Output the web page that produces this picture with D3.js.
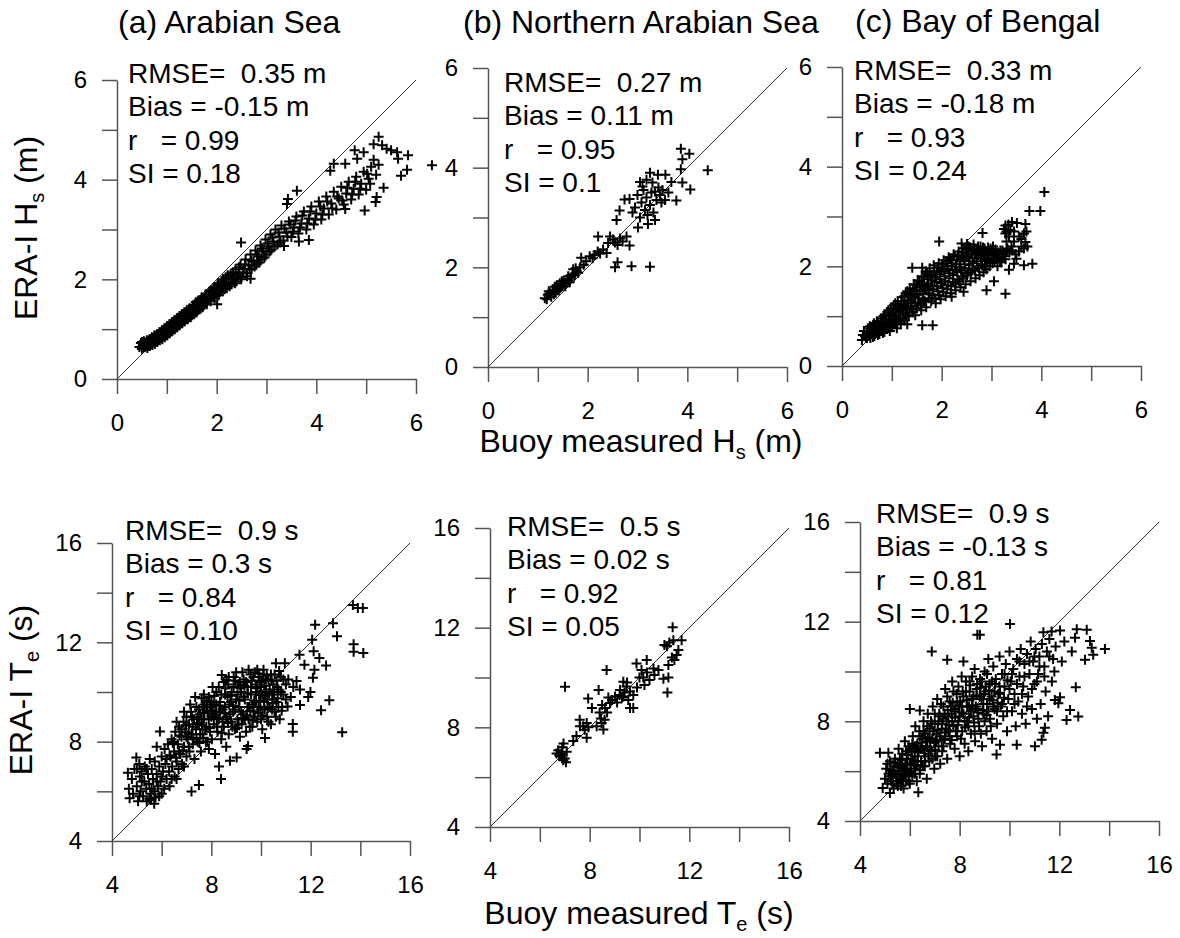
<!DOCTYPE html>
<html>
<head>
<meta charset="utf-8">
<title>ERA-I vs buoy scatter</title>
<script src="https://cdn.jsdelivr.net/npm/d3@7"></script>
<style>
  body { margin: 0; background: #fff; }
  svg { font-family: "Liberation Sans", Arial, sans-serif; }
  text { white-space: pre; }
</style>
</head>
<body>
<script>
// ---- data: [buoy, ERA-I] ----
var hsArabian = [
  [0.45,0.64],[0.48,0.72],[0.5,0.6],[0.52,0.68],[0.54,0.76],[0.56,0.64],[0.58,0.7],[0.6,0.78],[0.61,0.62],[0.63,0.7],
  [0.65,0.8],[0.66,0.66],[0.68,0.74],[0.7,0.84],[0.71,0.68],[0.73,0.78],[0.75,0.88],[0.76,0.7],[0.78,0.8],[0.8,0.9],
  [0.81,0.74],[0.83,0.84],[0.85,0.94],[0.86,0.78],[0.88,0.88],[0.9,0.98],[0.91,0.8],[0.93,0.9],[0.95,1.02],[0.96,0.84],
  [0.98,0.94],[1.0,1.06],[1.01,0.88],[1.03,0.98],[1.05,1.1],[1.06,0.92],[1.08,1.02],[1.1,1.14],[1.11,0.96],[1.13,1.06],
  [1.15,1.18],[1.16,1.0],[1.18,1.1],[1.2,1.22],[1.21,1.04],[1.23,1.14],[1.25,1.26],[1.26,1.08],[1.28,1.18],[1.3,1.3],
  [1.31,1.12],[1.33,1.22],[1.35,1.34],[1.36,1.16],[1.38,1.26],[1.4,1.38],[1.42,1.2],[1.44,1.3],[1.46,1.42],[1.48,1.24],
  [1.5,1.36],[1.52,1.48],[1.54,1.3],[1.56,1.42],[1.58,1.54],[1.6,1.34],[1.62,1.46],[1.64,1.58],[1.66,1.4],[1.68,1.52],
  [1.7,1.64],[1.72,1.44],[1.75,1.56],[1.78,1.7],[1.8,1.5],[1.83,1.62],[1.86,1.76],[1.88,1.56],[1.91,1.68],[1.94,1.82],
  [1.96,1.62],[1.99,1.74],[2.02,1.88],[2.04,1.68],[2.07,1.8],[2.1,1.96],[2.12,1.76],[2.15,1.88],[2.18,2.04],[2.2,1.82],
  [2.24,1.94],[2.28,2.1],[2.3,1.9],[2.34,2.02],[2.38,2.2],[2.4,1.96],[2.44,2.1],[2.48,2.3],[2.5,2.04],[2.54,2.2],
  [2.58,2.4],[2.6,2.12],[2.64,2.28],[2.68,2.5],[2.7,2.2],[2.74,2.36],[2.78,2.58],[2.8,2.3],[2.84,2.46],[2.88,2.68],
  [2.9,2.4],[2.94,2.56],[2.98,2.8],[3.0,2.5],[3.04,2.66],[3.08,2.9],[3.1,2.6],[3.14,2.76],[3.18,3.0],[3.22,2.7],
  [3.26,2.86],[3.3,3.08],[3.34,2.78],[3.4,2.94],[3.45,3.16],[3.5,2.85],[3.55,3.04],[3.6,3.26],[3.64,2.92],[3.7,3.12],
  [3.75,3.36],[3.8,3.0],[3.85,3.22],[3.9,3.46],[3.95,3.1],[4.0,3.32],[4.05,3.56],[4.1,3.2],[4.15,3.42],[4.2,3.66],
  [4.25,3.3],[4.3,3.52],[4.35,3.76],[4.4,3.4],[4.45,3.62],[4.5,3.86],[4.55,3.5],[4.6,3.72],[4.65,3.96],[4.7,3.6],
  [4.75,3.82],[4.8,4.06],[4.85,3.7],[4.9,3.92],[4.95,4.16],[5.0,3.8],[5.05,4.02],[5.1,4.26],[5.15,4.4],[5.2,4.1],
  [5.25,4.3],[5.25,4.86],[5.15,4.71],[5.32,4.69],[5.41,4.62],[5.5,4.59],[5.62,4.55],[5.64,4.42],[5.84,4.49],[5.82,4.2],
  [5.7,4.08],[5.35,3.84],[5.21,3.65],[5.19,3.55],[4.97,3.38],[4.58,3.41],[4.77,4.59],[4.95,4.55],[4.82,4.42],[4.58,4.32],
  [4.35,4.32],[4.28,4.18],[3.61,3.78],[3.43,3.61],[3.41,3.51],[3.85,2.79],[3.65,2.76],[3.35,2.67],[2.68,2.01],[2.01,1.5],
  [2.49,2.74],[6.32,4.29],
  [0.5,0.74],[0.53,0.63],[0.57,0.73],[0.59,0.66],[0.62,0.74],[0.64,0.67],[0.67,0.77],[0.69,0.7],[0.72,0.82],[0.74,0.73],
  [0.77,0.84],[0.79,0.76],[0.82,0.88],[0.84,0.8],[0.87,0.92],[0.89,0.83],[0.92,0.96],[0.94,0.87],[0.97,1.0],[0.99,0.9],
  [1.02,1.04],[1.04,0.94],[1.07,1.08],[1.09,0.98],[1.12,1.12],[1.14,1.02],[1.17,1.16],[1.19,1.06],[1.22,1.2],[1.24,1.1],
  [1.27,1.24],[1.29,1.14],[1.32,1.28],[1.34,1.18],[1.37,1.32],[1.39,1.22],[1.43,1.36],[1.45,1.25],[1.49,1.4],[1.51,1.3],
  [1.55,1.46],[1.57,1.36],[1.61,1.52],[1.63,1.4],[1.67,1.58],[1.69,1.46],[1.73,1.62],[1.76,1.5],[1.79,1.66],[1.81,1.56],
  [1.85,1.72],[1.87,1.62],[1.9,1.78],[1.93,1.66],[1.97,1.84],[2.0,1.7],[2.03,1.92],[2.06,1.74],[2.09,1.86],[2.13,2.0],
  [2.16,1.8],[2.19,1.94],[2.22,2.08],[2.26,1.86],[2.29,2.0],[2.33,2.14],[2.37,1.92],[2.41,2.06],[2.45,2.24],[2.49,2.0],
  [2.53,2.14],[2.57,2.3],[2.61,2.06],[2.66,2.2],[2.7,2.38],[2.76,2.26],[2.81,2.5],[2.86,2.34],[2.91,2.62],[2.96,2.44],
  [3.02,2.72],[3.06,2.56],[3.12,2.84],[3.16,2.66],[3.24,2.94],[3.28,2.74],[3.36,3.02],[3.42,2.86],[3.48,3.1],[3.53,2.96],
  [3.58,3.18],[3.67,3.04],[3.72,3.28],[3.82,3.12],[3.88,3.36],[3.98,3.2],[4.08,3.46],[4.12,3.3],[4.22,3.56],[4.32,3.42],
  [4.42,3.66],[4.52,3.58],[4.62,3.84],[4.72,3.7],[4.78,3.96],[4.88,3.82],[5.02,4.12],[5.08,3.92]
];
var hsNorthern = [
  [1.14,1.38],[1.2,1.45],[1.24,1.48],[1.27,1.41],[1.3,1.55],[1.34,1.61],[1.36,1.5],[1.4,1.58],[1.44,1.68],[1.46,1.6],
  [1.5,1.65],[1.52,1.72],[1.55,1.62],[1.58,1.76],[1.61,1.82],[1.64,1.7],[1.67,1.8],[1.71,1.96],[1.74,1.84],[1.78,1.92],
  [1.81,1.89],[1.85,2.0],[1.87,2.19],[1.92,2.05],[1.97,2.12],[2.04,2.22],[2.1,2.18],[2.14,2.25],[2.2,2.32],[2.25,2.28],
  [2.31,2.36],[2.38,2.29],[2.21,2.62],[2.41,2.49],[2.51,2.56],[2.45,2.62],[2.55,2.5],[2.6,2.45],[2.65,2.58],[2.7,2.52],
  [2.78,2.62],[2.84,2.44],[2.58,2.95],[2.64,3.14],[2.74,3.36],[2.84,3.37],[2.9,3.1],[2.95,3.2],[3.0,3.45],[3.01,2.8],
  [3.05,3.0],[3.08,3.3],[3.12,3.55],[3.15,3.15],[3.18,3.4],[3.21,2.87],[3.25,3.25],[3.28,3.5],[3.32,3.1],[3.35,2.95],
  [3.38,3.35],[3.42,3.6],[3.45,3.45],[3.05,3.71],[3.18,3.76],[3.25,3.9],[3.41,3.86],[3.56,3.86],[3.68,3.71],[3.5,3.55],
  [3.55,3.35],[3.62,3.5],[3.78,3.34],[3.87,4.38],[4.04,4.28],[3.9,4.17],[3.87,3.97],[3.9,3.7],[4.06,3.56],[4.41,3.95],
  [2.55,2.0],[2.6,2.1],[2.88,2.02],[3.25,2.01],
  [1.18,1.36],[1.22,1.52],[1.32,1.46],[1.38,1.64],[1.42,1.54],[1.48,1.72],[1.56,1.68],[1.62,1.74],[1.7,1.86],[1.76,1.98],
  [3.1,3.62],[3.3,3.7],[3.35,3.52],[3.48,3.3],[3.2,3.05]
];
var hsBengal = [
  [0.4,0.52],[0.42,0.62],[0.44,0.7],[0.48,0.56],[0.5,0.66],[0.52,0.76],[0.54,0.6],[0.58,0.68],[0.6,0.78],[0.62,0.58],
  [0.64,0.86],[0.66,0.64],[0.68,0.74],[0.7,0.9],[0.72,0.62],[0.74,0.82],[0.76,0.7],[0.78,0.96],[0.8,0.78],[0.82,0.66],
  [0.84,0.88],[0.86,1.02],[0.88,0.74],[0.9,0.84],[0.92,1.08],[0.94,0.94],[0.96,0.7],[0.98,1.16],[1.0,0.8],[1.02,1.0],
  [1.04,1.22],[1.06,0.9],[1.08,1.1],[1.1,0.76],[1.12,1.3],[1.14,0.96],[1.16,1.16],[1.18,0.84],[1.2,1.38],[1.22,1.06],
  [1.24,1.24],[1.26,0.92],[1.28,1.46],[1.3,1.14],[1.32,1.32],[1.34,1.0],[1.36,1.56],[1.38,1.2],[1.4,1.4],[1.42,1.08],
  [1.44,1.64],[1.46,1.28],[1.41,1.97],[1.48,1.5],[1.5,1.16],[1.52,1.72],[1.54,1.36],[1.56,1.58],[1.58,1.22],[1.6,1.8],
  [1.61,1.97],[1.62,1.44],[1.64,1.66],[1.66,1.3],[1.68,1.9],[1.7,1.52],[1.72,1.74],[1.74,1.36],[1.76,1.96],[1.78,1.6],
  [1.8,1.82],[1.82,1.42],[1.84,2.02],[1.86,1.68],[1.88,1.26],[1.9,1.88],[1.92,1.5],[1.94,2.06],[1.96,1.74],[1.98,1.34],
  [2.0,1.94],[2.02,1.56],[2.04,2.12],[2.06,1.8],[2.08,1.4],[2.1,2.0],[2.12,1.62],[2.14,2.18],[2.16,1.86],[2.18,1.46],
  [2.2,2.06],[2.22,1.68],[2.24,2.24],[2.26,1.92],[2.28,1.52],[2.3,2.12],[2.32,1.74],[2.34,2.3],[2.36,1.98],[2.38,1.58],
  [2.4,2.18],[2.42,1.8],[2.44,2.36],[2.46,2.04],[2.48,1.64],[2.5,2.24],[2.52,1.86],[2.54,2.4],[2.56,2.1],[2.58,1.7],
  [2.6,2.3],[2.62,1.92],[2.64,2.44],[2.66,2.16],[2.68,1.76],[2.7,2.34],[2.72,1.98],[2.74,2.22],[2.76,1.82],[2.78,2.4],
  [2.8,2.04],[2.82,2.28],[2.84,1.88],[2.86,2.36],[2.88,2.1],[2.9,1.94],[2.92,2.3],[2.94,2.16],[2.96,2.0],[2.98,2.36],
  [3.0,2.22],[3.02,2.06],[3.04,2.3],[3.06,2.12],[3.1,2.26],[3.12,2.0],[3.15,2.18],[3.18,2.32],[3.2,2.08],[3.24,2.24],
  [3.28,2.14],[3.3,2.3],[4.06,3.49],[3.76,3.11],[3.98,3.11],[3.28,2.82],[3.41,2.89],[3.51,2.87],[3.68,2.85],[3.38,2.73],
  [3.28,2.66],[3.65,2.66],[3.68,2.49],[3.65,2.36],[2.82,2.67],[1.95,2.5],[2.4,2.46],[2.51,2.45],[3.82,2.05],[3.65,2.02],
  [3.35,1.93],[3.28,1.45],[2.9,1.52],[3.05,1.7],[2.2,1.39],[2.44,1.49],[1.61,0.82],[1.82,0.82],[1.31,0.84],[3.35,2.6],
  [3.45,2.5],[3.4,2.4],[3.55,2.3],[3.5,2.15],[3.45,2.05],[3.6,2.55],[3.3,2.5],
  [0.46,0.6],[0.5,0.56],[0.53,0.7],[0.56,0.8],[0.57,0.56],[0.6,0.64],[0.63,0.72],[0.65,0.6],[0.67,0.82],[0.69,0.66],
  [0.71,0.76],[0.73,0.86],[0.75,0.64],[0.77,0.78],[0.79,0.88],[0.81,0.72],[0.83,1.0],[0.85,0.68],[0.87,0.82],[0.89,0.94],
  [0.91,0.76],[0.93,1.12],[0.95,0.86],[0.97,1.04],[0.99,0.78],[1.01,0.92],[1.03,1.14],[1.05,0.84],[1.07,1.26],[1.09,1.02],
  [1.11,0.88],[1.13,1.2],[1.15,1.08],[1.17,0.92],[1.19,1.3],[1.21,1.12],[1.23,0.96],[1.25,1.4],[1.27,1.2],[1.29,1.02],
  [1.31,1.5],[1.33,1.26],[1.35,1.08],[1.37,1.44],[1.39,1.32],[1.41,1.14],[1.43,1.54],[1.45,1.38],[1.47,1.02],[1.49,1.62],
  [1.51,1.44],[1.53,1.26],[1.55,1.7],[1.57,1.5],[1.59,1.12],[1.61,1.62],[1.63,1.34],[1.65,1.78],[1.67,1.56],[1.69,1.18],
  [1.71,1.86],[1.73,1.64],[1.75,1.46],[1.77,1.82],[1.79,1.3],[1.81,1.72],[1.83,1.54],[1.85,1.9],[1.87,1.36],[1.89,1.78],
  [1.91,1.6],[1.93,1.98],[1.95,1.42],[1.97,1.84],[1.99,1.66],[2.01,2.04],[2.03,1.48],[2.05,1.9],[2.07,1.7],[2.09,2.1],
  [2.11,1.54],[2.13,1.94],[2.15,1.76],[2.17,2.14],[2.19,1.6],[2.21,2.0],[2.23,1.82],[2.25,2.2],[2.27,1.64],[2.29,2.04],
  [2.31,1.88],[2.33,2.22],[2.35,1.7],[2.37,2.1],[2.39,1.92],[2.41,2.28],[2.43,1.76],[2.45,2.14],[2.47,1.96],[2.49,2.34],
  [2.51,1.82],[2.53,2.2],[2.55,2.02],[2.57,2.38],[2.59,1.88],[2.61,2.24],[2.63,2.06],[2.65,2.34],[2.67,1.92],[2.69,2.26],
  [2.71,2.1],[2.73,2.4],[2.75,1.96],[2.77,2.3],[2.79,2.16],[2.81,2.02],[2.83,2.38],[2.85,2.22],[2.87,2.0],[2.89,2.3],
  [2.91,2.12],[2.93,2.38],[2.95,2.26],[2.97,2.08],[2.99,2.32],[3.01,2.16],[3.03,2.4],[3.05,2.24],[3.08,2.34],[3.11,2.18],
  [3.14,2.28],[3.17,2.1],[3.22,2.32],[3.26,2.2],[3.32,2.36],[3.36,2.28],[3.42,2.32],[3.48,2.24],[3.3,2.7],[3.34,2.84],
  [3.25,2.75],[3.45,2.7],[3.55,2.6],[3.6,2.4],[3.7,2.7],[3.72,2.4]
];
var teArabian = [
  [4.64,6.75],[4.71,5.72],[4.68,6.1],[4.8,6.5],[4.85,5.9],[4.9,6.9],[4.98,7.36],[5.0,6.2],[5.05,5.6],[5.1,7.1],
  [5.12,6.6],[5.15,6.0],[5.2,6.8],[5.25,5.8],[5.3,6.4],[5.32,7.0],[5.38,6.1],[5.4,5.6],[5.45,6.7],[5.5,6.3],
  [5.52,7.3],[5.55,5.9],[5.58,5.65],[5.6,6.9],[5.65,6.5],[5.7,6.0],[5.72,7.2],[5.75,5.75],[5.8,7.8],[5.8,6.7],
  [5.85,6.2],[5.9,7.0],[5.93,8.41],[5.95,6.4],[6.0,5.9],[6.0,7.4],[6.05,6.8],[6.1,6.1],[6.12,7.7],[6.15,7.1],
  [6.2,6.5],[6.25,7.9],[6.3,6.8],[6.32,6.2],[6.35,7.4],[6.4,8.1],[6.42,7.0],[6.5,7.6],[6.52,6.6],[6.55,8.4],
  [6.6,7.2],[6.65,7.9],[6.68,6.9],[6.7,8.6],[6.75,7.5],[6.8,8.2],[6.82,7.1],[6.88,8.8],[6.9,7.8],[6.95,8.4],
  [7.0,7.4],[7.0,9.0],[7.05,8.1],[7.1,8.7],[7.12,7.6],[7.2,5.99],[7.18,9.2],[7.2,8.3],[7.25,7.9],[7.3,8.9],
  [7.32,7.3],[7.38,8.5],[7.4,9.4],[7.45,8.0],[7.5,6.26],[7.5,8.7],[7.55,9.1],[7.58,7.6],[7.61,9.75],[7.65,8.3],
  [7.7,8.9],[7.72,9.5],[7.78,8.0],[7.8,8.6],[7.85,9.2],[7.9,7.7],[7.9,9.8],[7.95,8.4],[8.0,9.0],[8.02,8.1],
  [8.08,9.5],[8.1,8.7],[8.15,7.5],[8.18,9.2],[8.2,10.0],[8.25,8.4],[8.3,8.9],[8.31,7.0],[8.35,9.6],[8.39,6.5],
  [8.4,8.1],[8.42,10.68],[8.45,9.3],[8.5,8.6],[8.55,9.9],[8.6,7.8],[8.61,10.48],[8.62,9.0],[8.68,10.3],[8.7,8.3],
  [8.72,9.5],[8.75,7.23],[8.8,8.8],[8.82,10.0],[8.88,9.2],[8.9,10.6],[8.95,8.5],[9.0,9.7],[9.02,7.36],[9.05,8.9],
  [9.08,10.3],[9.12,9.4],[9.15,8.2],[9.2,10.0],[9.22,8.7],[9.28,9.1],[9.3,10.5],[9.35,9.7],[9.4,8.4],[9.42,7.7],
  [9.45,10.2],[9.48,7.83],[9.5,8.9],[9.52,9.4],[9.58,10.7],[9.6,9.9],[9.65,8.6],[9.7,9.2],[9.75,10.8],[9.78,10.3],
  [9.8,9.6],[9.85,8.8],[9.9,10.6],[9.92,9.9],[9.98,9.3],[10.0,10.2],[10.05,8.5],[10.1,10.7],[10.12,9.6],[10.16,8.15],
  [10.2,10.0],[10.25,9.0],[10.3,10.5],[10.35,9.4],[10.4,8.7],[10.45,9.9],[10.5,10.3],[10.55,9.2],[10.6,11.16],[10.62,9.6],
  [10.7,10.1],[10.75,8.9],[10.8,10.6],[10.85,9.4],[10.96,11.16],[10.9,9.9],[11.0,10.3],[11.07,9.42],[11.1,10.5],[11.2,9.8],
  [11.28,8.71],[11.28,8.4],[11.3,10.2],[11.43,10.44],[11.55,11.5],[11.57,10.1],[11.57,9.48],[11.75,11.1],[11.9,9.8],[11.99,10.0],
  [12.06,12.1],[12.09,10.57],[12.12,11.64],[12.15,10.9],[12.18,12.71],[12.35,11.37],[12.42,9.27],[12.62,11.07],[12.75,9.67],[12.9,12.77],
  [13.06,12.24],[13.27,8.38],[13.7,13.5],[13.73,11.92],[13.73,11.62],[13.9,13.38],[14.1,13.38],[14.12,11.57],
  [7.5,9.3],[7.6,8.9],[7.7,9.9],[7.8,9.4],[7.9,8.9],[8.0,9.6],[8.05,10.2],[8.1,9.1],[8.2,9.5],[8.22,8.6],
  [8.3,10.2],[8.35,9.2],[8.4,9.9],[8.45,8.8],[8.5,10.4],[8.55,9.4],[8.6,8.9],[8.65,9.8],[8.7,10.6],[8.75,9.1],
  [8.8,9.6],[8.85,8.6],[8.9,10.2],[8.95,9.3],[9.0,10.8],[9.05,9.9],[9.1,8.7],[9.15,10.4],[9.2,9.2],[9.25,10.8],
  [9.3,9.8],[9.35,8.9],[9.4,10.4],[9.45,9.4],[9.5,10.9],[9.55,8.6],[9.6,10.2],[9.65,9.5],[9.7,10.6],[9.75,9.0],
  [9.8,10.0],[9.85,10.9],[9.9,9.4],[9.95,10.4],[10.0,8.9],[10.05,9.9],[10.1,10.9],[10.15,9.3],[10.2,10.5],[10.25,9.7],
  [10.3,8.8],[10.35,10.1],[10.4,10.7],[10.45,9.3],[10.5,9.7],[10.55,10.7],[10.6,9.0],[10.65,10.2],[10.7,9.4],[10.8,10.0],
  [10.9,10.5],[11.0,9.7],[6.5,8.0],[6.6,8.8],[6.7,7.6],[6.8,8.5],[6.9,9.2],[7.0,8.2],[7.1,7.8],[7.15,9.5],
  [7.25,8.6],[7.35,9.8],[7.4,8.1],[7.45,9.0],[7.55,8.3],[7.65,9.4],[7.75,8.5],[7.85,8.0],[7.95,9.4],[5.0,6.9],
  [5.2,6.4],[5.4,6.9],[5.6,6.1],[5.8,6.4],[6.0,6.6],[6.2,7.3],[6.4,6.5],[6.6,6.5],[6.9,7.0],[5.1,5.8],
  [5.5,5.7],[5.7,5.5],[5.9,5.8],
  [7.62,8.65],[7.72,9.15],[7.82,9.65],[7.92,8.55],[8.02,9.25],[8.12,9.85],[8.22,8.95],[8.32,9.45],[8.42,8.35],[8.52,9.15],
  [8.57,10.15],[8.67,8.75],[8.77,9.85],[8.87,9.45],[8.97,10.45],[9.03,8.55],[9.13,9.65],[9.17,10.15],[9.27,8.95],[9.33,10.25],
  [9.43,9.05],[9.47,9.95],[9.57,9.25],[9.63,10.45],[9.67,8.85],[9.73,9.65],[9.83,10.15],[9.87,9.15],[9.93,10.75],[9.97,9.65],
  [10.03,10.45],[10.07,9.05],[10.13,10.25],[10.17,9.85],[10.23,10.65],[10.27,9.35],[10.33,9.95],[10.43,10.45],[10.47,9.55],[10.53,10.0],
  [10.63,10.45],[10.67,9.75],[10.73,10.85],[10.83,9.25],[6.32,7.45],[6.45,7.95],[6.58,7.35],[6.72,8.25],[6.85,7.65],[6.98,8.65],
  [7.08,8.35],[7.22,9.0],[7.28,8.15],[7.42,8.75],[7.52,7.95],[7.68,8.15]
];
var teNorthern = [
  [6.74,7.08],[6.88,6.95],[6.94,6.68],[6.67,6.95],[7.08,7.02],[6.8,6.85],[6.9,7.2],[7.0,6.75],[6.95,7.35],[6.78,6.9],
  [7.05,6.6],[7.34,7.45],[7.47,7.65],[7.88,7.58],[7.61,8.04],[7.74,8.04],[7.88,8.17],[7.6,8.3],[7.8,7.9],[7.95,8.0],
  [8.09,8.78],[7.94,9.16],[8.36,9.5],[8.28,8.04],[8.48,8.17],[8.55,7.91],[8.4,8.6],[8.5,8.9],[8.62,8.78],[8.45,8.35],
  [8.6,8.3],[8.7,8.6],[8.82,8.98],[9.02,9.24],[9.22,9.5],[8.9,9.1],[9.1,9.0],[9.3,9.2],[9.35,9.83],[9.48,9.64],
  [9.62,9.44],[9.75,9.3],[9.4,9.4],[9.35,9.24],[9.62,8.78],[9.75,8.78],[9.55,9.1],[9.9,9.6],[10.0,10.0],[9.88,10.56],
  [10.08,10.3],[10.15,10.0],[10.2,9.7],[10.29,10.7],[10.56,10.36],[10.76,10.3],[10.4,9.9],[10.6,10.1],[8.68,10.3],[7.01,9.63],
  [10.96,9.95],[11.16,10.0],[11.12,9.4],[11.16,10.5],[11.0,11.3],[11.1,11.25],[11.36,11.5],[11.69,11.5],[11.56,11.1],[11.49,10.9],
  [11.33,12.02],[11.3,10.8],[11.4,10.7],[9.5,9.8],[9.2,9.3],[8.75,9.2],[10.3,10.2],[11.2,11.4]
];
var teBengal = [
  [4.8,6.74],[5.14,6.74],[4.91,5.32],[5.2,5.12],[6.34,5.15],[5.0,5.7],[5.05,6.1],[5.1,5.5],[5.15,5.9],[5.2,6.4],
  [5.25,5.6],[5.3,6.0],[5.35,5.3],[5.4,6.5],[5.45,5.8],[5.5,6.2],[5.52,5.4],[5.55,6.9],[5.6,5.7],[5.62,6.3],
  [5.68,5.9],[5.7,6.7],[5.75,5.3],[5.78,6.1],[5.8,7.2],[5.85,5.6],[5.88,6.5],[5.9,6.0],[5.95,7.0],[6.0,8.5],
  [6.0,5.5],[6.02,6.3],[6.08,6.8],[6.1,5.8],[6.12,7.4],[6.18,6.1],[6.2,6.6],[6.22,7.8],[6.28,5.6],[6.3,7.1],
  [6.32,6.4],[6.38,7.6],[6.4,8.43],[6.4,5.9],[6.45,6.9],[6.5,7.3],[6.52,6.2],[6.55,8.0],[6.6,6.6],[6.62,7.5],
  [6.68,5.7],[6.7,7.0],[6.72,8.3],[6.78,6.4],[6.8,7.7],[6.85,6.8],[6.88,10.8],[6.9,7.3],[6.92,8.6],[6.98,6.1],
  [7.0,7.9],[7.02,6.6],[7.08,7.5],[7.1,8.9],[7.15,7.0],[7.2,8.2],[7.22,6.3],[7.28,7.7],[7.3,6.8],[7.35,8.6],
  [7.4,7.3],[7.42,9.3],[7.48,8.0],[7.5,10.47],[7.5,6.5],[7.55,7.6],[7.6,8.8],[7.62,7.1],[7.68,8.3],[7.7,9.6],
  [7.75,7.8],[7.8,6.9],[7.82,8.5],[7.88,9.1],[7.9,7.4],[7.95,8.0],[8.0,6.6],[8.02,8.8],[8.08,9.8],[8.1,7.6],
  [8.15,10.4],[8.15,8.3],[8.2,7.1],[8.25,9.2],[8.3,8.0],[8.35,6.8],[8.38,8.6],[8.4,9.6],[8.45,7.5],[8.5,8.9],
  [8.55,8.2],[8.6,10.1],[8.62,7.2],[8.68,9.3],[8.71,11.47],[8.72,8.5],[8.78,7.8],[8.81,11.47],[8.82,9.7],[8.88,8.9],
  [8.9,7.0],[8.95,8.3],[9.0,10.0],[9.02,9.2],[9.08,7.6],[9.1,8.7],[9.15,10.5],[9.2,9.5],[9.22,8.1],[9.28,9.0],
  [9.3,7.3],[9.35,10.2],[9.4,8.5],[9.45,9.7],[9.48,6.67],[9.5,7.9],[9.55,9.1],[9.6,10.6],[9.62,7.06],[9.65,8.6],
  [9.7,9.9],[9.75,8.2],[9.8,9.4],[9.85,10.3],[9.9,7.6],[9.95,8.9],[10.0,10.8],[10.02,11.91],[10.05,9.6],[10.1,8.4],
  [10.15,10.1],[10.2,9.1],[10.25,7.8],[10.29,7.06],[10.3,10.5],[10.35,8.8],[10.4,9.8],[10.45,10.9],[10.5,8.3],[10.55,9.4],
  [10.6,10.3],[10.65,7.9],[10.7,10.7],[10.75,9.0],[10.8,9.9],[10.85,11.2],[10.9,8.5],[10.95,10.4],[11.0,9.5],[11.02,7.0],
  [11.05,10.9],[11.1,8.1],[11.15,9.9],[11.2,10.6],[11.25,8.7],[11.29,7.26],[11.3,11.1],[11.36,11.58],[11.36,7.54],[11.4,10.2],
  [11.42,7.74],[11.45,9.2],[11.5,10.8],[11.55,8.2],[11.6,11.3],[11.69,11.61],[11.7,9.6],[11.75,10.5],[11.82,8.86],[11.85,11.0],
  [11.96,8.73],[12.03,11.65],[12.03,8.97],[12.1,10.4],[12.2,11.2],[12.29,8.05],[12.43,8.45],[12.5,10.8],[12.63,11.35],[12.66,9.37],
  [12.76,8.19],[12.7,11.7],[13.03,10.47],[13.1,11.68],[13.23,11.22],[13.3,10.95],[13.36,10.67],[13.83,10.9],
  [5.1,6.3],[5.2,5.8],[5.3,5.5],[5.35,6.2],[5.4,5.9],[5.5,5.6],[5.55,6.0],[5.6,6.5],[5.65,5.4],[5.7,6.2],
  [5.75,6.0],[5.8,5.8],[5.85,6.8],[5.9,6.3],[5.95,5.6],[6.0,6.9],[6.05,6.0],[6.1,7.1],[6.15,6.4],[6.2,5.9],
  [6.25,7.0],[6.3,6.2],[6.35,6.8],[6.4,7.4],[6.45,6.4],[6.5,6.9],[6.55,7.6],[6.6,6.2],[6.65,7.2],[6.7,7.8],
  [6.75,6.7],[6.8,7.3],[6.85,8.0],[6.9,6.5],[6.95,7.6],[7.0,8.3],[7.05,7.2],[7.1,6.6],[7.15,8.0],[7.2,7.4],
  [7.25,8.7],[7.3,7.9],[7.35,7.0],[7.4,8.3],[7.45,7.7],[7.5,9.0],[7.55,8.2],[7.6,7.4],[7.65,8.6],[7.7,8.0],
  [7.75,9.2],[7.8,8.4],[7.85,7.6],[7.9,8.8],[7.95,9.4],[8.0,8.2],[8.05,7.3],[8.1,8.6],[8.15,9.0],[8.2,8.0],
  [8.25,9.6],[8.3,8.6],[8.35,7.8],[8.4,9.2],[8.45,8.4],[8.5,9.8],[8.55,9.0],[8.6,7.6],[8.65,8.6],[8.7,9.5],
  [8.75,8.1],[8.8,9.0],[8.85,7.5],[8.9,9.6],[8.95,8.7],[9.0,8.0],[9.05,9.4],[9.1,9.9],[9.15,8.4],[9.2,8.9],
  [9.25,7.8],[9.3,9.6],[9.35,8.6],[9.4,9.2],[9.5,8.4],[9.6,9.4],[9.7,8.7],[9.8,9.9],[9.9,8.4],[10.0,9.3],
  [10.1,9.9],[10.2,8.7],[10.3,9.5],[10.4,10.4],[10.5,9.1],[10.6,9.8],[10.7,8.6],[10.8,10.4],[10.9,9.3],[11.0,10.6],
  [11.1,9.6],[11.2,10.2],[11.4,9.8],[11.6,10.6],[11.8,10.0],
  [5.22,6.05],[5.32,5.75],[5.42,6.35],[5.48,5.5],[5.58,6.15],[5.68,6.45],[5.72,5.65],[5.82,6.25],[5.92,6.65],[5.98,5.9],
  [6.08,6.5],[6.18,7.0],[6.22,6.25],[6.32,6.75],[6.42,6.05],[6.48,7.15],[6.58,6.85],[6.62,6.4],[6.72,7.35],[6.82,6.95],
  [6.88,7.9],[6.98,7.15],[7.02,6.85],[7.12,7.65],[7.18,8.3],[7.28,7.25],[7.32,8.1],[7.42,7.55],[7.52,8.45],[7.58,7.85],
  [7.68,7.25],[7.72,8.75],[7.82,8.15],[7.92,7.85],[7.98,8.6],[8.08,8.35],[8.12,9.2],[8.22,7.75],[8.28,8.85],[8.38,8.15],
  [8.42,9.45],[8.52,8.65],[8.58,7.95],[8.68,9.05],[8.72,8.35],[8.82,9.35],[8.92,8.45],[8.98,9.1],[9.08,8.25],[9.18,9.25],
  [9.32,8.85],[9.42,9.5],[9.52,8.75],[9.62,9.15],[9.78,8.95],[9.92,9.65]
];

var regionTitles = ["(a) Arabian Sea", "(b) Northern Arabian Sea", "(c) Bay of Bengal"];
var statsHs = [
  ["RMSE=  0.35 m", "Bias = -0.15 m", "r   = 0.99", "SI = 0.18"],
  ["RMSE=  0.27 m", "Bias = 0.11 m", "r   = 0.95", "SI = 0.1"],
  ["RMSE=  0.33 m", "Bias = -0.18 m", "r   = 0.93", "SI = 0.24"]
];
var statsTe = [
  ["RMSE=  0.9 s", "Bias = 0.3 s", "r   = 0.84", "SI = 0.10"],
  ["RMSE=  0.5 s", "Bias = 0.02 s", "r   = 0.92", "SI = 0.05"],
  ["RMSE=  0.9 s", "Bias = -0.13 s", "r   = 0.81", "SI = 0.12"]
];
var hsDomain = [0, 6], hsLabels = [0, 2, 4, 6], hsTicks = [0, 1, 2, 3, 4, 5, 6];
var teDomain = [4, 16], teLabels = [4, 8, 12, 16], teTicks = [4, 6, 8, 10, 12, 14, 16];

// ---- layout ----
var w = 1180, h = 938;
var svg = d3.select("body").append("svg")
    .attr("width", w)
    .attr("height", h);

var panels = [
  {pts: hsArabian,  stats: statsHs[0], dom: hsDomain, lab: hsLabels, tk: hsTicks, x: 117, y: 80,  s: 299, tx: 128, ty: 83},
  {pts: hsNorthern, stats: statsHs[1], dom: hsDomain, lab: hsLabels, tk: hsTicks, x: 488, y: 68,  s: 299, tx: 504, ty: 92},
  {pts: hsBengal,   stats: statsHs[2], dom: hsDomain, lab: hsLabels, tk: hsTicks, x: 842, y: 67,  s: 299, tx: 854, ty: 80},
  {pts: teArabian,  stats: statsTe[0], dom: teDomain, lab: teLabels, tk: teTicks, x: 112, y: 543, s: 298, tx: 125, ty: 540},
  {pts: teNorthern, stats: statsTe[1], dom: teDomain, lab: teLabels, tk: teTicks, x: 490, y: 528, s: 299, tx: 507, ty: 536},
  {pts: teBengal,   stats: statsTe[2], dom: teDomain, lab: teLabels, tk: teTicks, x: 860, y: 522, s: 299, tx: 876, ty: 523}
];

var axisColor = "#555";

panels.forEach(function (p) {
    var x = d3.scaleLinear().domain(p.dom).range([0, p.s]);
    var y = d3.scaleLinear().domain(p.dom).range([p.s, 0]);
    var g = svg.append("g").attr("transform", "translate(" + p.x + "," + p.y + ")");

    var fmt = function (d) { return p.lab.indexOf(d) >= 0 ? d : ""; };

    var xa = g.append("g")
        .attr("transform", "translate(0," + p.s + ")")
        .call(d3.axisBottom(x).tickValues(p.tk).tickSize(15).tickSizeOuter(0).tickPadding(20).tickFormat(fmt));
    var ya = g.append("g")
        .call(d3.axisLeft(y).tickValues(p.tk).tickSize(15).tickSizeOuter(0).tickPadding(15).tickFormat(fmt));

    [xa, ya].forEach(function (a) {
        a.select(".domain").attr("stroke", axisColor).attr("stroke-width", 1.5);
        a.selectAll(".tick line").attr("stroke", axisColor).attr("stroke-width", 1.5);
        a.selectAll(".tick text")
            .attr("fill", "#000")
            .style("font-size", "24px")
            .style("font-family", "'Liberation Sans', Arial, sans-serif");
    });

    // 1:1 line
    g.append("line")
        .attr("x1", x(p.dom[0])).attr("y1", y(p.dom[0]))
        .attr("x2", x(p.dom[1])).attr("y2", y(p.dom[1]))
        .attr("stroke", "#333")
        .attr("stroke-width", 1);

    // plus markers
    g.selectAll("path.pt")
        .data(p.pts)
      .enter().append("path")
        .attr("class", "pt")
        .attr("d", "M-5,0H5M0,-5V5")
        .attr("transform", function (d) { return "translate(" + x(d[0]) + "," + y(d[1]) + ")"; })
        .attr("stroke", "#000")
        .attr("stroke-width", 2)
        .attr("fill", "none");

    // statistics
    svg.append("g").selectAll("text")
        .data(p.stats)
      .enter().append("text")
        .attr("x", p.tx)
        .attr("y", function (d, i) { return p.ty + i * 33.3; })
        .style("font-size", "28px")
        .text(function (d) { return d; });
});

// region titles
var titlePos = [[118, 33], [463, 33], [855, 32]];
svg.selectAll("text.title")
    .data(regionTitles)
  .enter().append("text")
    .attr("class", "title")
    .attr("x", function (d, i) { return titlePos[i][0]; })
    .attr("y", function (d, i) { return titlePos[i][1]; })
    .style("font-size", "32px")
    .text(function (d) { return d; });

// axis titles with subscripts
function axisTitle(sel, main, sub, tail) {
    sel.style("font-size", "32px");
    sel.append("tspan").text(main);
    sel.append("tspan").attr("dy", 7).style("font-size", "20px").text(sub);
    sel.append("tspan").attr("dy", -7).text(tail);
}

svg.append("text").attr("x", 641).attr("y", 452).attr("text-anchor", "middle")
    .call(axisTitle, "Buoy measured H", "s", " (m)");
svg.append("text").attr("x", 639).attr("y", 924).attr("text-anchor", "middle")
    .call(axisTitle, "Buoy measured T", "e", " (s)");
svg.append("text").attr("transform", "translate(37,228) rotate(-90)").attr("text-anchor", "middle")
    .call(axisTitle, "ERA-I H", "s", " (m)");
svg.append("text").attr("transform", "translate(32,690) rotate(-90)").attr("text-anchor", "middle")
    .call(axisTitle, "ERA-I T", "e", " (s)");
</script>
</body>
</html>
